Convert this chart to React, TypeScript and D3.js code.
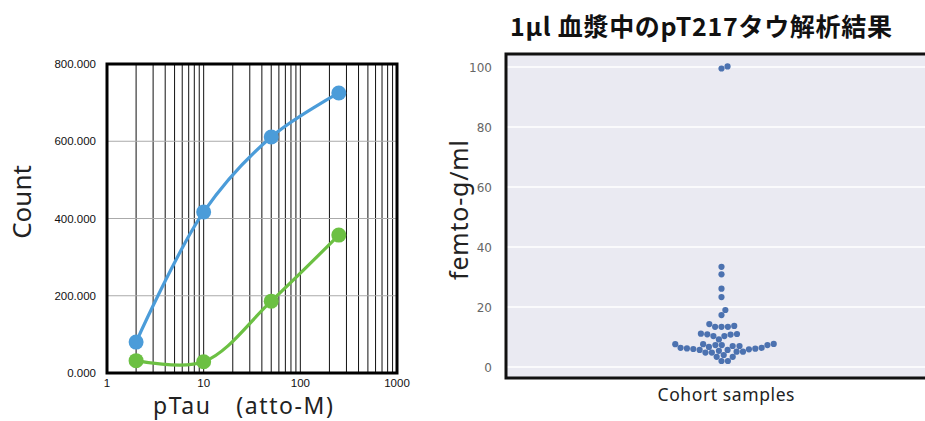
import React, { useEffect, useRef } from 'react';
import * as d3 from 'd3';

// Left chart: calibration curves (log x)
const concentrations = [2, 10, 50, 250];
const blueCounts = [80000, 417000, 611000, 725000];
const greenCounts = [32000, 29000, 186000, 357000];
const countTicks = [0, 200000, 400000, 600000, 800000];
const concTicks = [1, 10, 100, 1000];

// Right chart: pT217 swarm values (femto-g/ml)
const cohortValues = [
  100.2, 99.5,
  33.4, 30.9, 26.1, 23.3, 19.0, 17.3,
  13.4, 13.4, 13.4, 13.7, 14.3,
  11.0, 10.9, 10.3, 9.2, 10.3, 10.8, 11.1,
  7.6, 6.7, 6.4, 6.2, 6.0, 5.4,
  7.7, 7.3, 7.0, 7.0, 7.3, 7.6,
  5.1, 4.8, 4.8, 5.1, 5.7,
  5.7, 5.9, 6.1, 6.4, 7.3,
  3.4, 2.0, 2.0, 3.4, 4.0,
];
const femtoTicks = [0, 20, 40, 60, 80, 100];

const W = 925;
const H = 421;

// simple seaborn-like swarm layout: place each point as close to center as possible
function swarm(values: number[], y: (v: number) => number, d: number) {
  const pts = values.map(v => ({ v, y: y(v), x: 0 })).sort((a, b) => a.v - b.v);
  const placed: { v: number; y: number; x: number }[] = [];
  pts.forEach(p => {
    const near = placed.filter(q => Math.abs(q.y - p.y) < d);
    const cands = [0];
    near.forEach(q => {
      const dx = Math.sqrt(d * d - (p.y - q.y) ** 2);
      cands.push(q.x + dx, q.x - dx);
    });
    cands.sort((a, b) => Math.abs(a) - Math.abs(b));
    const ok = cands.find(c => near.every(q => Math.hypot(q.x - c, q.y - p.y) >= d - 0.01));
    p.x = ok ?? 0;
    placed.push(p);
  });
  return placed;
}

const App = () => {
  const svgRef = useRef<SVGSVGElement>(null);

  useEffect(() => {
    const svg = d3.select(svgRef.current);
    svg.selectAll('*').remove();

    svg.append('rect').attr('width', W).attr('height', H).attr('fill', '#fff');

    // ---------- left chart ----------
    const L = { left: 107, right: 397, top: 64, bottom: 373 };
    const x = d3.scaleLog().domain([1, 1000]).range([L.left, L.right]);
    const y = d3.scaleLinear().domain([0, 800000]).range([L.bottom, L.top]);
    const left = svg.append('g');

    // vertical log grid
    const minor: number[] = [];
    for (let dec = 1; dec < 1000; dec *= 10) {
      for (let k = 1; k <= 9; k++) minor.push(dec * k);
    }
    left.selectAll('.vgrid')
      .data(minor.filter(v => v > 1))
      .enter().append('line')
      .attr('x1', d => x(d)).attr('x2', d => x(d))
      .attr('y1', L.top).attr('y2', L.bottom)
      .attr('stroke', '#111')
      .attr('stroke-width', 1);

    left.selectAll('.hgrid')
      .data(countTicks.slice(1, -1))
      .enter().append('line')
      .attr('x1', L.left).attr('x2', L.right)
      .attr('y1', d => y(d)).attr('y2', d => y(d))
      .attr('stroke', '#aaa')
      .attr('stroke-width', 1);

    left.append('rect')
      .attr('x', L.left).attr('y', L.top)
      .attr('width', L.right - L.left).attr('height', L.bottom - L.top)
      .attr('fill', 'none')
      .attr('stroke', '#000')
      .attr('stroke-width', 3);

    left.selectAll('.ytick')
      .data(countTicks)
      .enter().append('text')
      .attr('x', 96).attr('y', d => y(d) + 4)
      .attr('text-anchor', 'end')
      .attr('font-family', 'Liberation Sans, Arial, sans-serif')
      .attr('font-size', '11.5px')
      .attr('fill', '#111')
      .text(d => d3.format('.3f')(d / 1000));

    left.selectAll('.xtick')
      .data(concTicks)
      .enter().append('text')
      .attr('x', d => x(d)).attr('y', 387)
      .attr('text-anchor', 'middle')
      .attr('font-family', 'Liberation Sans, Arial, sans-serif')
      .attr('font-size', '11.5px')
      .attr('fill', '#111')
      .text(d => d);

    const series = [
      { values: blueCounts, color: '#4b9cd9' },
      { values: greenCounts, color: '#6cc043' },
    ];
    const line = d3.line<number>()
      .x((d, i) => x(concentrations[i]))
      .y(d => y(d))
      .curve(d3.curveCatmullRom.alpha(0.5));

    series.forEach(s => {
      left.append('path')
        .datum(s.values)
        .attr('d', line)
        .attr('fill', 'none')
        .attr('stroke', s.color)
        .attr('stroke-width', 3.2);
      left.selectAll(null)
        .data(s.values)
        .enter().append('circle')
        .attr('cx', (d, i) => x(concentrations[i]))
        .attr('cy', d => y(d))
        .attr('r', 7.5)
        .attr('fill', s.color);
    });

    left.append('text')
      .attr('transform', 'translate(31, 202) rotate(-90)')
      .attr('text-anchor', 'middle')
      .attr('font-family', 'Noto Sans, sans-serif')
      .attr('font-size', '26px')
      .attr('fill', '#222')
      .text('Count');

    left.append('text')
      .attr('x', 243).attr('y', 414)
      .attr('text-anchor', 'middle')
      .attr('font-family', 'Noto Sans, sans-serif')
      .attr('font-size', '23px')
      .attr('textLength', 180)
      .attr('lengthAdjust', 'spacing')
      .attr('fill', '#222')
      .text('pTau\u3000(atto-M)');

    // ---------- right chart ----------
    const R = { left: 506, right: 937, top: 54, bottom: 378 };
    const cx = (R.left + R.right) / 2;
    const fy = d3.scaleLinear().domain([0, 100]).range([367, 67]);
    const right = svg.append('g');

    right.append('rect')
      .attr('x', R.left).attr('y', R.top)
      .attr('width', R.right - R.left).attr('height', R.bottom - R.top)
      .attr('fill', '#eaeaf2');

    right.selectAll('.fgrid')
      .data(femtoTicks)
      .enter().append('line')
      .attr('x1', R.left).attr('x2', R.right)
      .attr('y1', d => fy(d)).attr('y2', d => fy(d))
      .attr('stroke', '#fff')
      .attr('stroke-width', 1.5);

    right.append('rect')
      .attr('x', R.left).attr('y', R.top)
      .attr('width', R.right - R.left).attr('height', R.bottom - R.top)
      .attr('fill', 'none')
      .attr('stroke', '#111')
      .attr('stroke-width', 3);

    right.selectAll('.ftick')
      .data(femtoTicks)
      .enter().append('text')
      .attr('x', 492).attr('y', d => fy(d) + 4.5)
      .attr('text-anchor', 'end')
      .attr('font-family', 'DejaVu Sans, sans-serif')
      .attr('font-size', '12px')
      .attr('fill', '#666')
      .text(d => d);

    const dots = swarm(cohortValues, fy, 6.4);
    right.selectAll('.dot')
      .data(dots)
      .enter().append('circle')
      .attr('cx', d => cx + d.x)
      .attr('cy', d => d.y)
      .attr('r', 3.1)
      .attr('fill', '#4c72b0');

    right.append('text')
      .attr('transform', 'translate(468, 210) rotate(-90)')
      .attr('text-anchor', 'middle')
      .attr('font-family', 'Noto Sans, sans-serif')
      .attr('font-size', '25px')
      .attr('textLength', 140)
      .attr('lengthAdjust', 'spacing')
      .attr('fill', '#222')
      .text('femto-g/ml');

    right.append('text')
      .attr('x', 726).attr('y', 401)
      .attr('text-anchor', 'middle')
      .attr('font-family', 'Noto Sans, sans-serif')
      .attr('font-size', '17.5px')
      .attr('textLength', 137)
      .attr('lengthAdjust', 'spacing')
      .attr('fill', '#222')
      .text('Cohort samples');

    right.append('text')
      .attr('x', 701).attr('y', 36)
      .attr('text-anchor', 'middle')
      .attr('font-family', 'Noto Sans CJK JP, sans-serif')
      .attr('font-weight', 'bold')
      .attr('font-size', '25px')
      .attr('textLength', 382)
      .attr('lengthAdjust', 'spacing')
      .attr('fill', '#111')
      .text('1μl 血漿中のpT217タウ解析結果');
  }, []);

  return (
    <svg
      ref={svgRef}
      width={W}
      height={H}
      style={{ position: 'absolute', left: 0, top: 0, display: 'block' }}
    />
  );
};

export default App;
